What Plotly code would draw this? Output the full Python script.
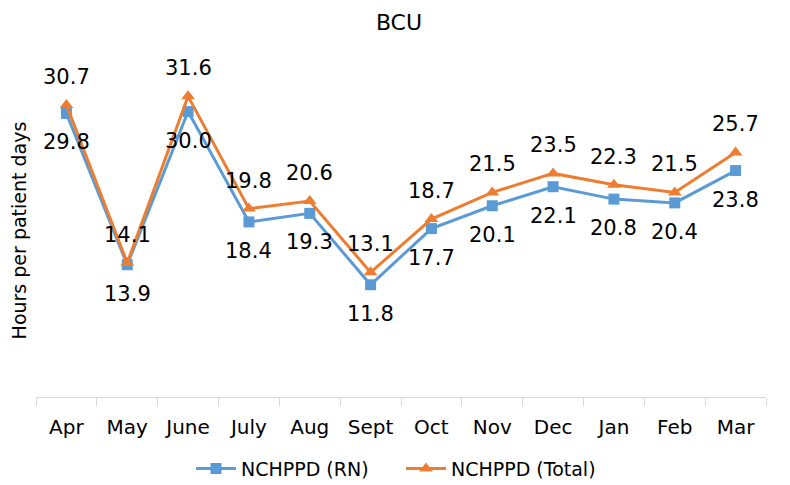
import plotly.graph_objects as go

months = ["Apr", "May", "June", "July", "Aug", "Sept", "Oct", "Nov", "Dec", "Jan", "Feb", "Mar"]
rn = [29.8, 13.9, 30.0, 18.4, 19.3, 11.8, 17.7, 20.1, 22.1, 20.8, 20.4, 23.8]
total = [30.7, 14.1, 31.6, 19.8, 20.6, 13.1, 18.7, 21.5, 23.5, 22.3, 21.5, 25.7]

BLUE = "#5b9bd5"
ORANGE = "#ed7d31"
FONT = "DejaVu Sans"

fig = go.Figure()
fig.add_trace(
    go.Scatter(
        x=months,
        y=rn,
        name="NCHPPD (RN)",
        mode="lines+markers",
        line=dict(width=3, color=BLUE),
        marker=dict(symbol="square", size=11, color=BLUE),
    )
)
fig.add_trace(
    go.Scatter(
        x=months,
        y=total,
        name="NCHPPD (Total)",
        mode="lines+markers",
        line=dict(width=3, color=ORANGE),
        marker=dict(symbol="triangle-up", size=12, color=ORANGE),
    )
)

# data labels: RN below the point, Total above
for m, v in zip(months, rn):
    fig.add_annotation(x=m, y=v, text=f"{v:.1f}", showarrow=False, yshift=-29,
                       font=dict(size=21, family=FONT, color="#000000"))
for m, v in zip(months, total):
    fig.add_annotation(x=m, y=v, text=f"{v:.1f}", showarrow=False, yshift=28,
                       font=dict(size=21, family=FONT, color="#000000"))

# page body has an 8px margin, so shift everything up/left by 8px
fig.update_layout(
    width=782,
    height=493,
    plot_bgcolor="white",
    paper_bgcolor="white",
    font=dict(family=FONT, color="#000000"),
    title=dict(text="BCU", x=0.5, xanchor="center", y=1 - 14 / 493, yanchor="middle",
               font=dict(size=22, family=FONT, color="#000000")),
    margin=dict(l=28, r=24, t=56, b=104),
    showlegend=True,
    legend=dict(orientation="h", x=0.5, xanchor="center", y=-0.215, yanchor="middle",
                font=dict(size=19, family=FONT, color="#000000"), itemwidth=40,
                entrywidth=155),
)
fig.update_xaxes(
    type="category",
    range=[-0.5, 11.5],
    showline=True,
    linecolor="#d9d9d9",
    linewidth=1,
    ticks="outside",
    tickson="boundaries",
    ticklen=8,
    tickcolor="#d9d9d9",
    ticklabelstandoff=12,
    showgrid=False,
    automargin=False,
    tickfont=dict(size=20, family=FONT, color="#000000"),
)
fig.update_yaxes(
    range=[0, 35],
    showticklabels=False,
    showgrid=False,
    zeroline=False,
    automargin=False,
    title=dict(text="Hours per patient days", font=dict(size=19, family=FONT, color="#000000"), standoff=4),
)
fig.write_html("out.html")
